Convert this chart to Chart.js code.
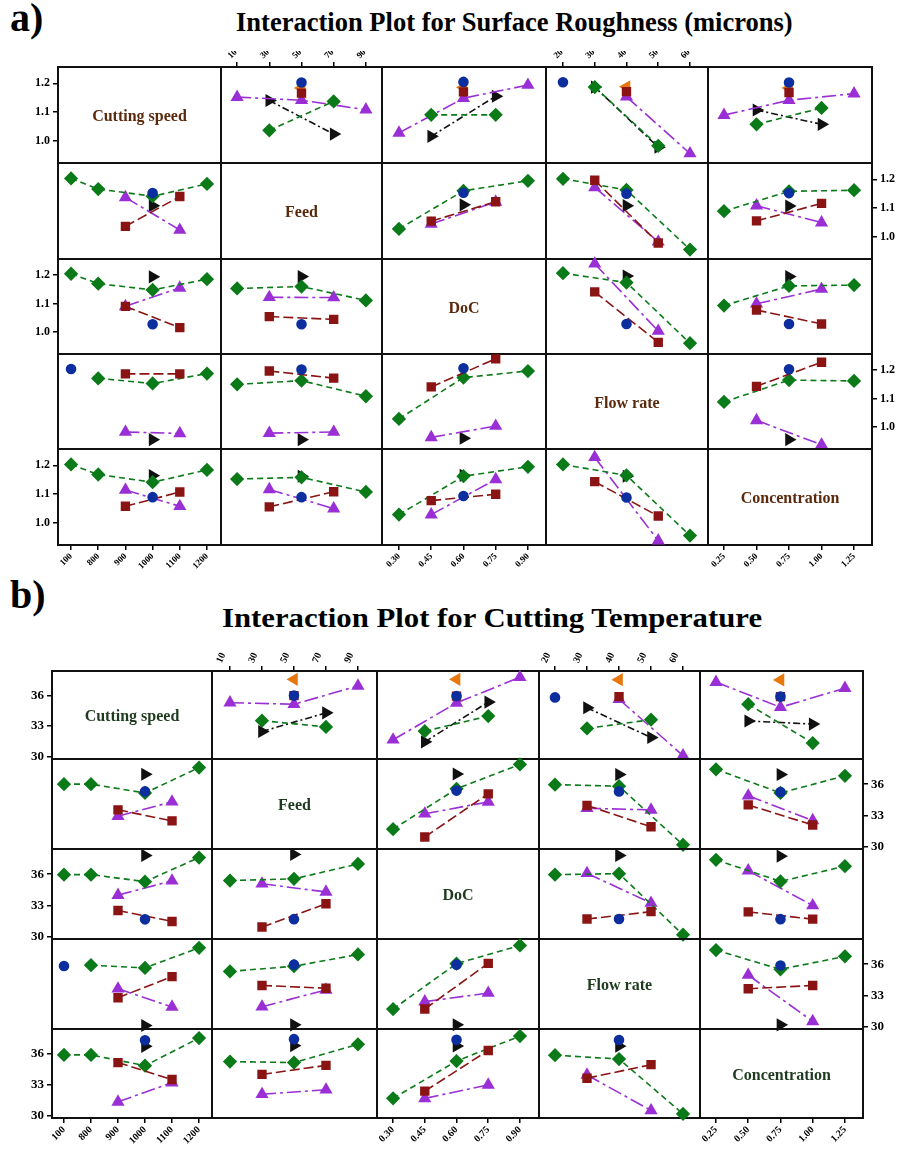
<!DOCTYPE html>
<html>
<head>
<meta charset="utf-8">
<script src="https://cdn.jsdelivr.net/npm/chart.js@4.4.1/dist/chart.umd.min.js"></script>
<style>
body{margin:0;background:#fff;width:906px;height:1151px;overflow:hidden;position:relative;font-family:"Liberation Serif",serif;}
canvas{position:absolute;}
.txt{position:absolute;font-weight:bold;white-space:nowrap;line-height:1;transform-origin:left top;color:#000;}
.diag{position:absolute;font-weight:bold;white-space:nowrap;line-height:1;transform:translate(-50%,-50%);}
</style>
</head>
<body>
<div class="txt" style="left:10px;top:-2px;font-size:40px;">a)</div>
<div class="txt title" data-w="557" style="left:236px;top:9px;font-size:27px;">Interaction Plot for Surface Roughness (microns)</div>
<div class="txt" style="left:10px;top:575px;font-size:40px;">b)</div>
<div class="txt title" data-w="540" style="left:222px;top:604px;font-size:28px;">Interaction Plot for Cutting Temperature</div>
<script>
const _ = null;

// factor levels and their tick labels
const speedVals = [700, 800, 900, 1000, 1100, 1200];
const feedVals = [10, 30, 50, 70, 90];
const docVals = [0.30, 0.45, 0.60, 0.75, 0.90];
const flowVals = [20, 30, 40, 50, 60];
const concVals = [0.25, 0.50, 0.75, 1.00, 1.25];
const speedTicks = ["100", "800", "900", "1000", "1100", "1200"];
const feedTicks = ["10", "30", "50", "70", "90"];
const docTicks = ["0.30", "0.45", "0.60", "0.75", "0.90"];
const flowTicks = ["20", "30", "40", "50", "60"];
const concTicks = ["0.25", "0.50", "0.75", "1.00", "1.25"];
const factorNames = ["Cutting speed", "Feed", "DoC", "Flow rate", "Concentration"];

// a) surface roughness means: rows = levels of first factor, cols = levels of second
const srSpeedFeed = [
  [_, _, 1.203, _, _],
  [_, _, 1.166, _, _],
  [_, 1.036, _, 1.137, _],
  [1.152, _, 1.141, _, 1.108],
  [_, 1.140, _, 1.023, _],
  [_, _, 1.184, _, _]
];
const srSpeedDoc = [
  [_, _, 1.205, _, _],
  [_, _, 1.170, _, _],
  [_, 1.090, _, 1.090, _],
  [1.027, _, 1.148, _, 1.194],
  [_, 1.015, _, 1.155, _],
  [_, _, 1.186, _, _]
];
const srSpeedFlow = [
  [1.204, _, _, _, _],
  [_, _, 1.171, _, _],
  [_, 1.187, _, 0.982, _],
  [_, _, 1.153, _, 0.955],
  [_, 1.187, _, 0.977, _],
  [_, _, 1.188, _, _]
];
const srSpeedConc = [
  [_, _, 1.203, _, _],
  [_, _, 1.168, _, _],
  [_, 1.057, _, 1.114, _],
  [1.089, _, 1.141, _, 1.164],
  [_, 1.107, _, 1.057, _],
  [_, _, 1.184, _, _]
];
const srFeedDoc = [
  [_, _, 1.153, _, _],
  [_, 1.054, _, 1.122, _],
  [1.027, _, 1.160, _, 1.195],
  [_, 1.044, _, 1.121, _],
  [_, _, 1.111, _, _]
];
const srFeedFlow = [
  [_, _, 1.150, _, _],
  [_, 1.197, _, 0.978, _],
  [1.202, _, 1.163, _, 0.955],
  [_, 1.172, _, 0.982, _],
  [_, _, 1.108, _, _]
];
const srFeedConc = [
  [_, _, 1.152, _, _],
  [_, 1.055, _, 1.116, _],
  [1.089, _, 1.158, _, 1.162],
  [_, 1.108, _, 1.049, _],
  [_, _, 1.107, _, _]
];
const srDocFlow = [
  [_, _, 1.028, _, _],
  [_, 1.141, _, 0.963, _],
  [1.207, _, 1.174, _, 0.960],
  [_, 1.240, _, 1.003, _],
  [_, _, 1.197, _, _]
];
const srDocConc = [
  [_, _, 1.028, _, _],
  [_, 1.077, _, 1.028, _],
  [1.093, _, 1.162, _, 1.165],
  [_, 1.099, _, 1.151, _],
  [_, _, 1.195, _, _]
];
const srFlowConc = [
  [_, _, 1.203, _, _],
  [_, 1.143, _, 1.228, _],
  [1.088, _, 1.165, _, 1.162],
  [_, 1.023, _, 0.937, _],
  [_, _, 0.955, _, _]
];

// b) cutting temperature means
const ctSpeedFeed = [
  [_, _, 36.0, _, _],
  [_, _, 36.0, _, _],
  [_, 33.53, _, 32.92, _],
  [35.3, _, 35.15, _, 36.95],
  [_, 32.47, _, 34.3, _],
  [_, _, 37.6, _, _]
];
const ctSpeedDoc = [
  [_, _, 35.95, _, _],
  [_, _, 35.95, _, _],
  [_, 32.5, _, 33.98, _],
  [31.65, _, 35.28, _, 37.8],
  [_, 31.45, _, 35.36, _],
  [_, _, 37.6, _, _]
];
const ctSpeedFlow = [
  [35.82, _, _, _, _],
  [_, _, 35.9, _, _],
  [_, 32.77, _, 33.63, _],
  [_, _, 35.64, _, 30.1],
  [_, 34.8, _, 31.88, _],
  [_, _, 37.57, _, _]
];
const ctSpeedConc = [
  [_, _, 35.9, _, _],
  [_, _, 35.9, _, _],
  [_, 35.15, _, 31.33, _],
  [37.33, _, 34.85, _, 36.73],
  [_, 33.5, _, 33.2, _],
  [_, _, 37.54, _, _]
];
const ctFeedDoc = [
  [_, _, 35.38, _, _],
  [_, 30.91, _, 35.07, _],
  [31.67, _, 35.55, _, 37.9],
  [_, 33.15, _, 34.29, _],
  [_, _, 36.98, _, _]
];
const ctFeedFlow = [
  [_, _, 35.3, _, _],
  [_, 33.95, _, 31.9, _],
  [35.95, _, 35.8, _, 30.16],
  [_, 33.68, _, 33.52, _],
  [_, _, 36.93, _, _]
];
const ctFeedConc = [
  [_, _, 35.25, _, _],
  [_, 34.0, _, 32.07, _],
  [37.43, _, 35.15, _, 36.8],
  [_, 34.88, _, 32.51, _],
  [_, _, 36.93, _, _]
];
const ctDocFlow = [
  [_, _, 31.68, _, _],
  [_, 31.68, _, 32.39, _],
  [35.95, _, 36.05, _, 30.17],
  [_, 36.08, _, 33.22, _],
  [_, _, 37.8, _, _]
];
const ctDocConc = [
  [_, _, 31.67, _, _],
  [_, 32.37, _, 31.67, _],
  [37.38, _, 35.3, _, 36.77],
  [_, 36.33, _, 32.98, _],
  [_, _, 37.73, _, _]
];
const ctFlowConc = [
  [_, _, 35.87, _, _],
  [_, 33.63, _, 33.95, _],
  [37.35, _, 35.5, _, 36.75],
  [_, 34.95, _, 30.49, _],
  [_, _, 30.16, _, _]
];

const srTicks = [1.0, 1.1, 1.2];
const ctTicks = [30, 33, 36];

const facVals = [speedVals, feedVals, docVals, flowVals, concVals];
const facTicks = [speedTicks, feedTicks, docTicks, flowTicks, concTicks];

// line style per level (Minitab style symbols)
const lvlColor = ["#0c2e9e", "#8a1414", "#0b7a18", "#9a2fd6", "#111111", "#e8780e"];
const lvlShape = ["circle", "rect", "rectRot", "triangle", "triangle", "triangle"];
const lvlRot = [0, 0, 0, 0, 90, -90];
const lvlSize = [4.5, 5.5, 6, 6, 6, 6];
const lvlDash = [[], [10, 4], [6, 4], [14, 4, 3, 4], [7, 3, 2, 3], []];

const partA = {
  cols: [58, 221, 382, 546, 708, 872], rows: [67, 163, 259, 354, 449, 545],
  yMin: 0.922, yMax: 1.257, yTicks: srTicks, yDec: 1,
  mats: {"01": srSpeedFeed, "02": srSpeedDoc, "03": srSpeedFlow, "04": srSpeedConc, "12": srFeedDoc,
         "13": srFeedFlow, "14": srFeedConc, "23": srDocFlow, "24": srDocConc, "34": srFlowConc},
  xRange: [[652, 1251.5], [0, 100], [0.221, 0.984], [14.65, 65.67], [0.127, 1.388]],
  axis: {left: 58, right: 34, top: 16, bottom: 30},
  yFont: 12, xFont: 9, topRot: 45, botRot: 45, nameColor: "#5b2a0d"
};
const partB = {
  cols: [52, 212, 377, 539, 700, 863], rows: [671, 759, 849, 939, 1029, 1118],
  yMin: 29.76, yMax: 38.42, yTicks: ctTicks, yDec: 0,
  mats: {"01": ctSpeedFeed, "02": ctSpeedDoc, "03": ctSpeedFlow, "04": ctSpeedConc, "12": ctFeedDoc,
         "13": ctFeedFlow, "14": ctFeedConc, "23": ctDocFlow, "24": ctDocConc, "34": ctFlowConc},
  xRange: [[655.6, 1248], [-1.25, 101.9], [0.224, 0.99], [15, 65.3], [0.126, 1.39]],
  axis: {left: 52, right: 43, top: 36, bottom: 33},
  yFont: 13, xFont: 10, topRot: 65, botRot: 45, nameColor: "#1f3b1f"
};

const framePlugin = {
  id: "frame",
  beforeDatasetsDraw(chart) {
    const {ctx, chartArea: a} = chart;
    ctx.save();
    ctx.strokeStyle = "#111";
    ctx.lineWidth = 2;
    ctx.strokeRect(a.left, a.top, a.right - a.left, a.bottom - a.top);
    ctx.restore();
  }
};

function seriesFor(part, r, c) {
  if (r === c) return [];
  const lo = Math.min(r, c), hi = Math.max(r, c);
  const M = part.mats["" + lo + hi];
  const out = [];
  for (let k = 0; k < facVals[r].length; k++) {
    const pts = [];
    facVals[c].forEach((x, j) => {
      const v = r < c ? M[k][j] : M[j][k];
      if (v !== null) pts.push({x: x, y: v});
    });
    if (!pts.length) continue;
    out.push({
      data: pts, showLine: true, tension: 0, clip: false,
      borderColor: lvlColor[k], backgroundColor: lvlColor[k],
      pointBackgroundColor: lvlColor[k], pointBorderColor: lvlColor[k],
      pointStyle: lvlShape[k], pointRotation: lvlRot[k], pointRadius: lvlSize[k],
      borderWidth: 1.6, borderDash: lvlDash[k]
    });
  }
  return out;
}

const M = 7; // room for marks that sit on a border

function panel(part, r, c) {
  const ax = part.axis;
  const xTop = r === 0 && c % 2 === 1;
  const xBot = r === 4 && c % 2 === 0;
  const yLeft = c === 0 && r % 2 === 0;
  const yRight = c === 4 && r % 2 === 1;
  const x0 = part.cols[c], x1 = part.cols[c + 1], y0 = part.rows[r], y1 = part.rows[r + 1];
  const padL = yLeft ? ax.left : M, padR = yRight ? ax.right : M;
  const padT = xTop ? ax.top : M, padB = xBot ? ax.bottom : M;
  const cv = document.createElement("canvas");
  const w = x1 - x0 + padL + padR, h = y1 - y0 + padT + padB;
  cv.width = w; cv.height = h;
  cv.style.left = (x0 - padL) + "px"; cv.style.top = (y0 - padT) + "px";
  cv.style.width = w + "px"; cv.style.height = h + "px";
  document.body.appendChild(cv);

  const xShown = xTop || xBot, yShown = yLeft || yRight;
  const tickGrid = {display: true, drawOnChartArea: false, drawTicks: true, tickLength: 5, color: "#000", lineWidth: 1.5};
  new Chart(cv, {
    type: "scatter",
    data: {datasets: seriesFor(part, r, c)},
    options: {
      responsive: false, animation: false, devicePixelRatio: 1,
      layout: {autoPadding: false, padding: {left: yLeft ? 0 : M, right: yRight ? 0 : M, top: xTop ? 0 : M, bottom: xBot ? 0 : M}},
      plugins: {legend: {display: false}, tooltip: {enabled: false}},
      scales: {
        x: {
          type: "linear", display: xShown, position: xTop ? "top" : "bottom",
          min: part.xRange[c][0], max: part.xRange[c][1],
          afterBuildTicks: s => { s.ticks = facVals[c].map(v => ({value: v})); },
          afterFit: s => { if (xShown) { s.height = xTop ? ax.top : ax.bottom; s.paddingLeft = 0; s.paddingRight = 0; } },
          ticks: {autoSkip: false, minRotation: xTop ? part.topRot : part.botRot, maxRotation: xTop ? part.topRot : part.botRot,
                  padding: 1, color: "#000", font: {family: "Liberation Serif", weight: "bold", size: part.xFont},
                  callback: (v, i) => facTicks[c][i]},
          grid: tickGrid, border: {display: false}
        },
        y: {
          type: "linear", display: yShown, position: yLeft ? "left" : "right",
          min: part.yMin, max: part.yMax,
          afterBuildTicks: s => { s.ticks = part.yTicks.map(v => ({value: v})); },
          afterFit: s => { if (yShown) { s.width = yLeft ? ax.left : ax.right; s.paddingTop = 0; s.paddingBottom = 0; } },
          ticks: {padding: 3, color: "#000", font: {family: "Liberation Serif", weight: "bold", size: part.yFont},
                  callback: v => Number(v).toFixed(part.yDec)},
          grid: tickGrid, border: {display: false}
        }
      }
    },
    plugins: [framePlugin]
  });

  if (r === c) {
    const d = document.createElement("div");
    d.className = "diag";
    d.textContent = factorNames[r];
    d.style.left = ((x0 + x1) / 2) + "px";
    d.style.top = ((y0 + y1) / 2 + 1) + "px";
    d.style.fontSize = "16px";
    d.style.color = part.nameColor;
    document.body.appendChild(d);
  }
}

[partA, partB].forEach(p => {
  for (let r = 0; r < 5; r++) for (let c = 0; c < 5; c++) panel(p, r, c);
});

document.querySelectorAll(".title").forEach(el => {
  const target = +el.dataset.w;
  el.style.transform = "scaleX(" + (target / el.offsetWidth) + ")";
});
</script>
</body>
</html>
